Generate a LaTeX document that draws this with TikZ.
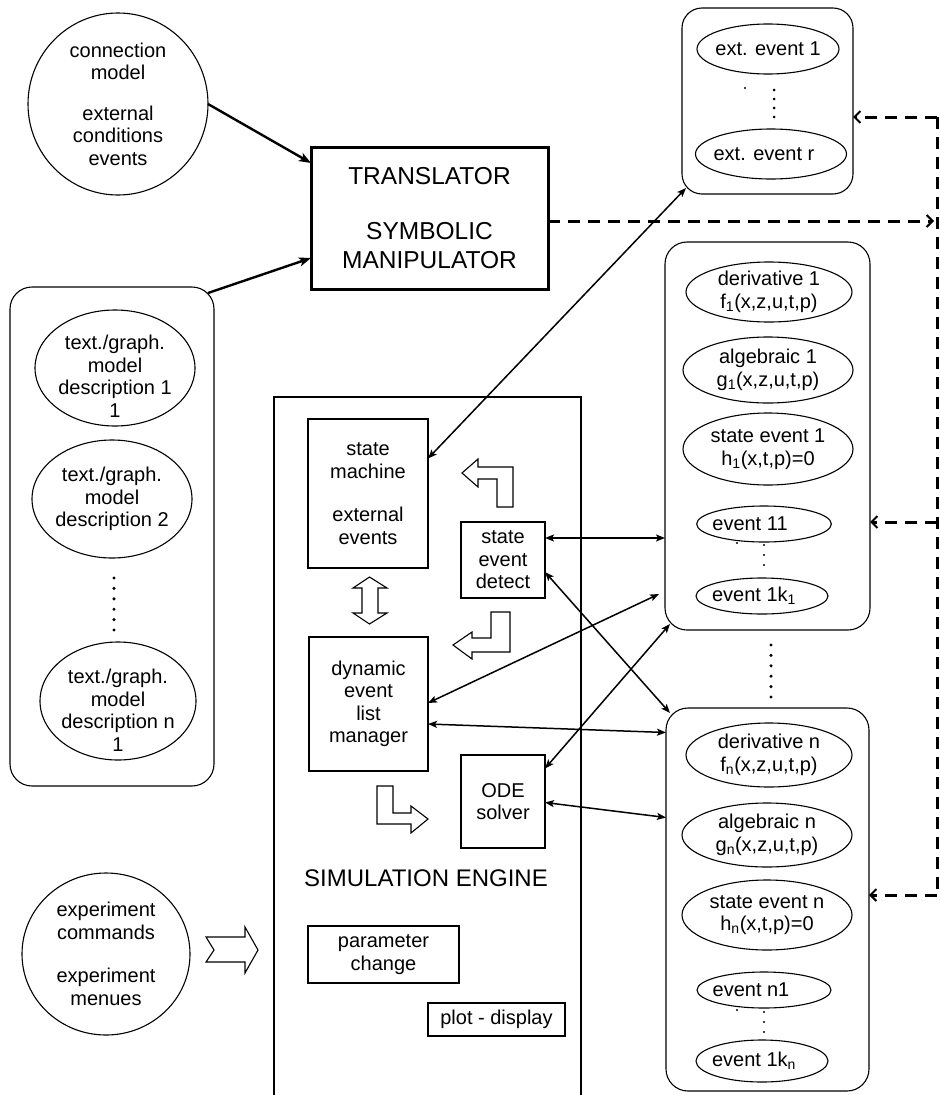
\documentclass[tikz,border=0pt]{standalone}
\usepackage{fontspec}
\setmainfont{Liberation Sans}
\usetikzlibrary{shapes.geometric,arrows.meta}
\begin{document}
\begin{tikzpicture}[x=1pt,y=-1pt,
  txt/.style={font=\fontsize{20}{22.5}\selectfont, align=center},
  bigtxt/.style={font=\fontsize{24.5}{29}\selectfont, align=center},
  ell/.style={ellipse, draw, line width=1.1pt, inner sep=-4pt, outer sep=0pt, txt},
  sbox/.style={rectangle, draw, line width=1.1pt, inner sep=0pt, outer sep=0pt, txt},
  rbox/.style={rectangle, rounded corners=22pt, draw, line width=1.1pt, inner sep=0pt, outer sep=0pt},
  biconn/.style={line width=1.5pt, {Stealth[length=9pt,width=7pt,inset=2pt]}-{Stealth[length=9pt,width=7pt,inset=2pt]}},
  thickarrow/.style={line width=2.4pt, -{Stealth[length=12pt,width=9pt,inset=3pt]}},
  dashline/.style={line width=3pt, dash pattern=on 12pt off 8pt},
  dashtip/.style={-{Straight Barb[length=6pt,width=12pt,line width=2pt]}},
  hollow/.style={draw, line width=1.1pt, fill=white, line join=miter}
]
\useasboundingbox (0,0) rectangle (940,1095);

% ---------- left side ----------
\node[ell, minimum width=180pt, minimum height=182pt] (conn) at (118,104)
  {connection\\model\\[18pt]external\\conditions\\events};

\node[rbox, minimum width=204pt, minimum height=499pt] (lbox) at (112,536.5) {};
\node[ell, minimum width=160pt, minimum height=116pt,
      label={[txt,name=d1t,yshift=-8pt]center:{text./graph.\\model\\description 1\\1}}] (d1) at (115,368) {};
\node[ell, minimum width=160pt, minimum height=118pt] (d2) at (112,499)
  {text./graph.\\model\\description 2};
\node[ell, minimum width=156pt, minimum height=118pt,
      label={[txt,name=dnt,yshift=-9pt]center:{text./graph.\\model\\description n\\1}}] (dn) at (118,701) {};
\foreach \yy in {578,588.4,598.8,609.2,619.6,630} \fill (114,\yy) circle (1.7pt);

\node[ell, minimum width=168pt, minimum height=162pt] (exp) at (106,954)
  {experiment\\commands\\[21pt]experiment\\menues};

% ---------- translator ----------
\node[rectangle, draw, line width=3pt, minimum width=237pt, minimum height=142pt,
      inner sep=0pt, outer sep=0pt, bigtxt] (trans) at (429.5,218)
  {TRANSLATOR\\[26pt]SYMBOLIC\\MANIPULATOR};

\draw[thickarrow] (conn.east) -- ([yshift=55pt]trans.west);
\draw[thickarrow] ([xshift=-6pt,yshift=-6pt]lbox.north east) -- ([yshift=-40pt]trans.west);

% ---------- simulation engine ----------
\node[rectangle, draw, line width=2.8pt, minimum width=307pt, minimum height=713pt,
      inner sep=0pt, outer sep=0pt] (sim) at (427.5,753.5) {};
\node[bigtxt, font=\fontsize{24}{29}\selectfont, inner sep=0pt] (simlabel) at (426,878) {SIMULATION ENGINE};

\node[sbox, minimum width=120pt, minimum height=149pt] (sm) at (368,493.5)
  {state\\machine\\[21pt]external\\events};
\node[sbox, minimum width=84pt, minimum height=76pt] (sed) at (503,560)
  {state\\event\\detect};
\node[sbox, minimum width=119pt, minimum height=134pt] (dyn) at (368.5,704)
  {dynamic\\event\\list\\manager};
\node[sbox, minimum width=84pt, minimum height=93pt] (ode) at (503,801.5)
  {ODE\\solver};
\node[sbox, minimum width=151pt, minimum height=57pt] (par) at (383.5,954.5)
  {parameter\\change};
\node[sbox, minimum width=137pt, minimum height=33pt] (plot) at (496.5,1019.5)
  {plot - display};

% hollow arrows
\draw[hollow] (462,473) -- (478,459) -- (478,467) -- (513,467) -- (513,507) -- (497,507)
  -- (497,479) -- (478,479) -- (478,487) -- cycle;
\draw[hollow] (510,612) -- (491,612) -- (491,638) -- (472,638) -- (472,632) -- (453,645)
  -- (472,659) -- (472,652) -- (510,652) -- cycle;
\draw[hollow] (377,786) -- (393,786) -- (393,813) -- (411,813) -- (411,806) -- (428,819)
  -- (411,833) -- (411,824) -- (377,824) -- cycle;
\draw[hollow] (369.5,577) -- (387,588) -- (378,588) -- (378,613) -- (387,613) -- (369.5,624)
  -- (353,613) -- (362,613) -- (362,588) -- (353,588) -- cycle;
\draw[hollow] (206,937) -- (245,937) -- (245,927) -- (258,950) -- (245,973) -- (245,962)
  -- (206,962) -- (214,950) -- cycle;

% ---------- right side ----------
\node[rbox, rounded corners=20pt, minimum width=171pt, minimum height=186pt] (ext) at (767.5,101) {};
\node[ell, minimum width=142pt, minimum height=50pt] (e1) at (768,49) {ext. event 1};
\node[ell, minimum width=142pt, minimum height=50pt] (er) at (771,154) {ext. event r\hspace*{14pt}};
\foreach \yy in {90,99,108,117} \fill (774,\yy) circle (1.5pt);
\fill (745,88) circle (1.2pt);

\node[rbox, minimum width=205pt, minimum height=388pt] (b1) at (767.5,436) {};
\node[ell, minimum width=166pt, minimum height=60pt] (f1) at (769,292)
  {derivative 1\\f\textsubscript{1}(x,z,u,t,p)};
\node[ell, minimum width=170pt, minimum height=66pt] (g1) at (768,370)
  {algebraic 1\\g\textsubscript{1}(x,z,u,t,p)};
\node[ell, minimum width=170pt, minimum height=72pt] (h1) at (768,449)
  {state event 1\\h\textsubscript{1}(x,t,p)=0};
\node[ell, minimum width=132pt, minimum height=36pt] (ev11) at (764,524) {event 11\hspace*{28pt}};
\node[ell, minimum width=132pt, minimum height=36pt] (ev1k) at (762,596) {event 1k\textsubscript{1}\hspace*{16pt}};
\foreach \yy in {545,555,565} \fill (764,\yy) circle (1.1pt);
\fill (737,543) circle (1.1pt);

\foreach \yy in {645,655.4,665.8,676.2,686.6,697} \fill (771,\yy) circle (1.7pt);

\node[rbox, minimum width=203pt, minimum height=383pt] (b2) at (767.5,899.5) {};
\node[ell, minimum width=166pt, minimum height=64pt] (fn) at (769,755)
  {derivative n\\f\textsubscript{n}(x,z,u,t,p)};
\node[ell, minimum width=170pt, minimum height=64pt] (gn) at (767,835)
  {algebraic n\\g\textsubscript{n}(x,z,u,t,p)};
\node[ell, minimum width=170pt, minimum height=70pt] (hn) at (767,915)
  {state event n\\h\textsubscript{n}(x,t,p)=0};
\node[ell, minimum width=132pt, minimum height=36pt] (evn1) at (764,990) {event n1\hspace*{26pt}};
\node[ell, minimum width=132pt, minimum height=42pt] (evnk) at (762,1061) {event 1k\textsubscript{n}\hspace*{16pt}};
\foreach \yy in {1012,1022,1032} \fill (764,\yy) circle (1.1pt);
\fill (737,1010) circle (1.1pt);

% ---------- connectors ----------
\draw[biconn] ([yshift=35pt]sm.east) -- ([xshift=4pt,yshift=6pt]ext.south west);
\draw[biconn] ([yshift=22pt]sed.east) -- ([yshift=-102pt]b1.west);
\draw[biconn] ([yshift=-12pt]sed.east) -- ([xshift=4pt,yshift=-5pt]b2.north west);
\draw[biconn] ([yshift=1pt]dyn.east) -- ([xshift=-6pt,yshift=-158pt]b1.west);
\draw[biconn] ([yshift=-20pt]dyn.east) -- ([yshift=167pt]b2.west);
\draw[biconn] ([yshift=33pt]ode.east) -- ([xshift=5pt,yshift=6pt]b1.south west);
\draw[biconn] ([yshift=-1pt]ode.east) -- ([yshift=82pt]b2.west);

% ---------- dashed feedback ----------
\coordinate (dtop) at (937,117);
\coordinate (dbot) at (937,895);
\coordinate (dmid) at (937,522);
\coordinate (din) at (934,221);
\draw[dashline] (dtop) -- (dbot);
\draw[dashline, dashtip] ([yshift=-3pt]trans.east) -- (din);
\draw[dashline, dashtip] (dtop) -- ([yshift=-16pt]ext.east);
\draw[dashline, dashtip] (dmid) -- ([yshift=-86pt]b1.east);
\draw[dashline, dashtip] (dbot) -- ([yshift=4.5pt]b2.east);
\end{tikzpicture}
\end{document}
